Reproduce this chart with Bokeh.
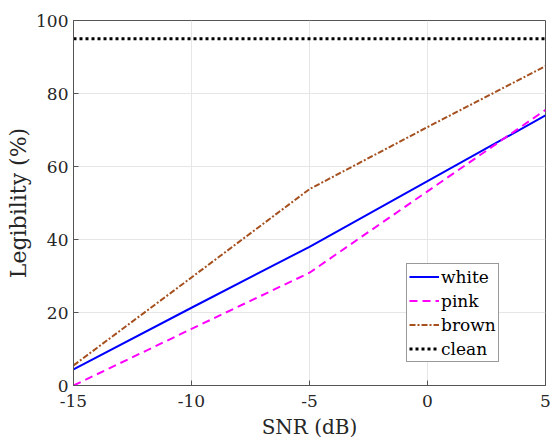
from bokeh.plotting import figure
from bokeh.models import Legend, LegendItem, FixedTicker
from bokeh.embed import file_html
from bokeh.resources import INLINE

snr = [-15, -10, -5, 0, 5]
white = [4.4, 21.3, 38.0, 56.0, 74.0]
pink = [0.0, 15.5, 30.9, 53.2, 75.5]
brown = [5.5, 29.6, 53.8, 70.8, 87.5]
clean_x = [-15, 5]
clean = [95.0, 95.0]
xticks = [-15, -10, -5, 0, 5]
xtick_labels = ["-15", "-10", "-5", "0", "5"]
yticks = [0, 20, 40, 60, 80, 100]

FONT = "DejaVu Serif"

p = figure(width=552, height=441, output_backend="svg", toolbar_location=None,
           x_range=(-15, 5), y_range=(0, 100),
           min_border_left=73, min_border_top=20, min_border_right=7, min_border_bottom=55)
p.outline_line_color = "#555555"
p.outline_line_width = 1

r_white = p.line(snr, white, line_color="#0000FF", line_width=2)
r_pink = p.line(snr, pink, line_color="#FF00FF", line_width=2, line_dash="8 5")
r_brown = p.line(snr, brown, line_color="#A5501E", line_width=2, line_dash="6 2 2 2")
r_clean = p.line(clean_x, clean, line_color="#000000", line_width=3, line_dash="3 3")

for ax in (p.xaxis[0], p.yaxis[0]):
    ax.axis_line_color = "#555555"
    ax.major_tick_line_color = "#555555"
    ax.major_tick_in = 5
    ax.major_tick_out = 0
    ax.minor_tick_line_color = None
    ax.major_label_text_font = FONT
    ax.major_label_text_font_size = "17px"
    ax.major_label_text_color = "#262626"
    ax.axis_label_text_font = FONT
    ax.axis_label_text_font_style = "normal"
    ax.axis_label_text_color = "#262626"

p.xaxis.axis_label_text_font_size = "20px"
p.yaxis.axis_label_text_font_size = "22px"

p.xaxis.ticker = FixedTicker(ticks=xticks)
p.xaxis.major_label_overrides = {t: s for t, s in zip(xticks, xtick_labels)}
p.yaxis.ticker = FixedTicker(ticks=yticks)
p.xaxis.axis_label = "SNR (dB)"
p.yaxis.axis_label = "Legibility (%)"
p.xaxis.major_label_standoff = 9
p.yaxis.major_label_standoff = 5
p.xaxis.axis_label_standoff = 5
p.yaxis.axis_label_standoff = 2

p.xgrid.ticker = FixedTicker(ticks=xticks)
p.ygrid.ticker = FixedTicker(ticks=yticks)
p.xgrid.grid_line_color = "#E6E6E6"
p.ygrid.grid_line_color = "#E6E6E6"

legend = Legend(items=[
    LegendItem(label="white", renderers=[r_white]),
    LegendItem(label="pink", renderers=[r_pink]),
    LegendItem(label="brown", renderers=[r_brown]),
    LegendItem(label="clean", renderers=[r_clean]),
], location=(333, 23))
legend.label_text_font = FONT
legend.label_text_font_size = "17px"
legend.label_text_color = "#000000"
legend.label_height = 21
legend.glyph_height = 21
legend.glyph_width = 30
legend.label_standoff = 2
legend.spacing = 3
legend.padding = 2
legend.margin = 0
legend.border_line_color = "#333333"
legend.border_line_width = 1
legend.background_fill_alpha = 1
p.add_layout(legend, "center")

open("out.html", "w").write(file_html(p, INLINE))
